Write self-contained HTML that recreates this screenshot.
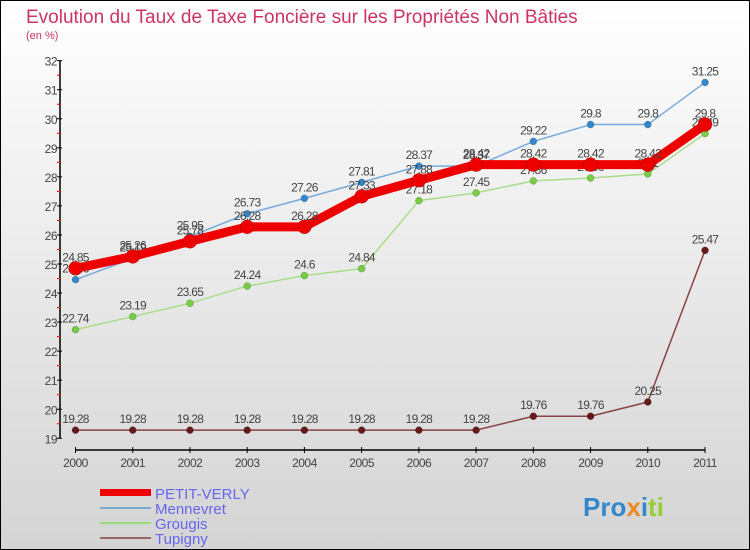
<!DOCTYPE html>
<html><head><meta charset="utf-8"><style>
body{margin:0}
#c{width:750px;height:550px;position:relative;overflow:hidden;font-family:"Liberation Sans",sans-serif}
</style></head><body>
<div id="c">
<svg id="s" width="750" height="550" xmlns="http://www.w3.org/2000/svg">
<defs><linearGradient id="bg" x1="0" y1="0" x2="0" y2="1"><stop offset="0" stop-color="#ffffff"/><stop offset="1" stop-color="#d4d4d4"/></linearGradient></defs>
<rect x="0.5" y="0.5" width="749" height="549" fill="url(#bg)" stroke="#000"/>
<text x="26" y="23" font-size="19" fill="#cc3366">Evolution du Taux de Taxe Foncière sur les Propriétés Non Bâties</text>
<text x="26" y="39" font-size="11" fill="#cc3366">(en %)</text>
<g id="axes"></g><g id="series"></g>
<g>
<rect x="100" y="489" width="51" height="7" fill="#ee0000"/>
<text x="155" y="499" font-size="15" fill="#6666ee">PETIT-VERLY</text>
<rect x="100" y="507" width="51" height="2" fill="#7aaacc"/>
<text x="155" y="514" font-size="15" fill="#6666ee">Mennevret</text>
<rect x="100" y="522" width="51" height="2" fill="#99dd77"/>
<text x="155" y="529" font-size="15" fill="#6666ee">Grougis</text>
<rect x="100" y="537" width="51" height="2" fill="#996666"/>
<text x="155" y="544" font-size="15" fill="#6666ee">Tupigny</text>
</g>
<text x="583" y="516" font-size="26" font-weight="bold"><tspan fill="#3388cc">Pro</tspan><tspan fill="#ee8822">x</tspan><tspan fill="#3388cc">i</tspan><tspan fill="#99cc33">ti</tspan></text>
</svg>
</div>
<script>
const years=["2000","2001","2002","2003","2004","2005","2006","2007","2008","2009","2010","2011"];
const petitVerly=[24.85,25.26,25.78,26.28,26.28,27.33,27.88,28.42,28.42,28.42,28.42,29.8];
const mennevret=[24.46,25.19,25.95,26.73,27.26,27.81,28.37,28.37,29.22,29.8,29.8,31.25];
const grougis=[22.74,23.19,23.65,24.24,24.6,24.84,27.18,27.45,27.86,27.96,28.1,29.49];
const tupigny=[19.28,19.28,19.28,19.28,19.28,19.28,19.28,19.28,19.76,19.76,20.25,25.47];
const yTicks=[19,20,21,22,23,24,25,26,27,28,29,30,31,32];
const NS="http://www.w3.org/2000/svg";
const X=i=>75.5+i*57.23;
const Y=v=>438.3-(v-19)*29.05;
function mk(tag,attrs,parent){const e=document.createElementNS(NS,tag);for(const k in attrs)e.setAttribute(k,attrs[k]);parent.appendChild(e);return e;}
const ax=document.getElementById('axes');
let l=mk('line',{x1:60,y1:Y(32),x2:60,y2:Y(19),stroke:'#000','stroke-width':1.5},ax);


yTicks.forEach(t=>{
 const tk=mk('line',{x1:57,x2:62,y1:Y(t),y2:Y(t),stroke:'#000'},ax);
 
 
 if(t<32){const m=mk('line',{x1:57,x2:61,y1:Y(t+0.5),y2:Y(t+0.5),stroke:'#ee0000'},ax);
 
 }
 const tx=mk('text',{x:57,y:Y(t)+5,'text-anchor':'end','font-size':12,fill:'#444','letter-spacing':'-0.5'},ax);
 tx.textContent=t;
 
 
});
l=mk('line',{x1:X(0),y1:450,x2:X(11),y2:450,stroke:'#000','stroke-width':1.5},ax);


years.forEach((y,i)=>{
 const tk=mk('line',{x1:X(i),x2:X(i),y1:447,y2:453,stroke:'#000'},ax);
 
 
 const tx=mk('text',{x:X(i),y:467,'text-anchor':'middle','font-size':12,fill:'#444','letter-spacing':'-0.5'},ax);
 tx.textContent=y;
 
 
});
const sg=document.getElementById('series');
function draw(data,name,color,width,r,dotFill){
 const g=mk('g',{},sg);
 
 
 const p=mk('polyline',{points:data.map((v,i)=>X(i)+','+Y(v)).join(' '),fill:'none',stroke:color,'stroke-width':width,'stroke-linejoin':'round'},g);
 
 
 data.forEach((v,i)=>{
  const c=mk('circle',{cx:X(i),cy:Y(v),r:r,fill:dotFill,stroke:'rgba(0,0,0,0.3)','stroke-width':0.5},g);
  
  
  const t=mk('text',{x:X(i),y:Y(v)-7,'text-anchor':'middle','font-size':12,fill:'#444','letter-spacing':'-0.7'},g);
  t.textContent=String(v);
  
  
 });
}
draw(tupigny,'tupigny','#884444',1.5,3.5,'#661a1a');
draw(grougis,'grougis','#aadd88',1.5,3.5,'#77cc44');
draw(mennevret,'mennevret','#77aadd',1.5,3.5,'#3388cc');
draw(petitVerly,'petit-verly','#ee0000',9,7,'#ee0000');
</script>
</body></html>
